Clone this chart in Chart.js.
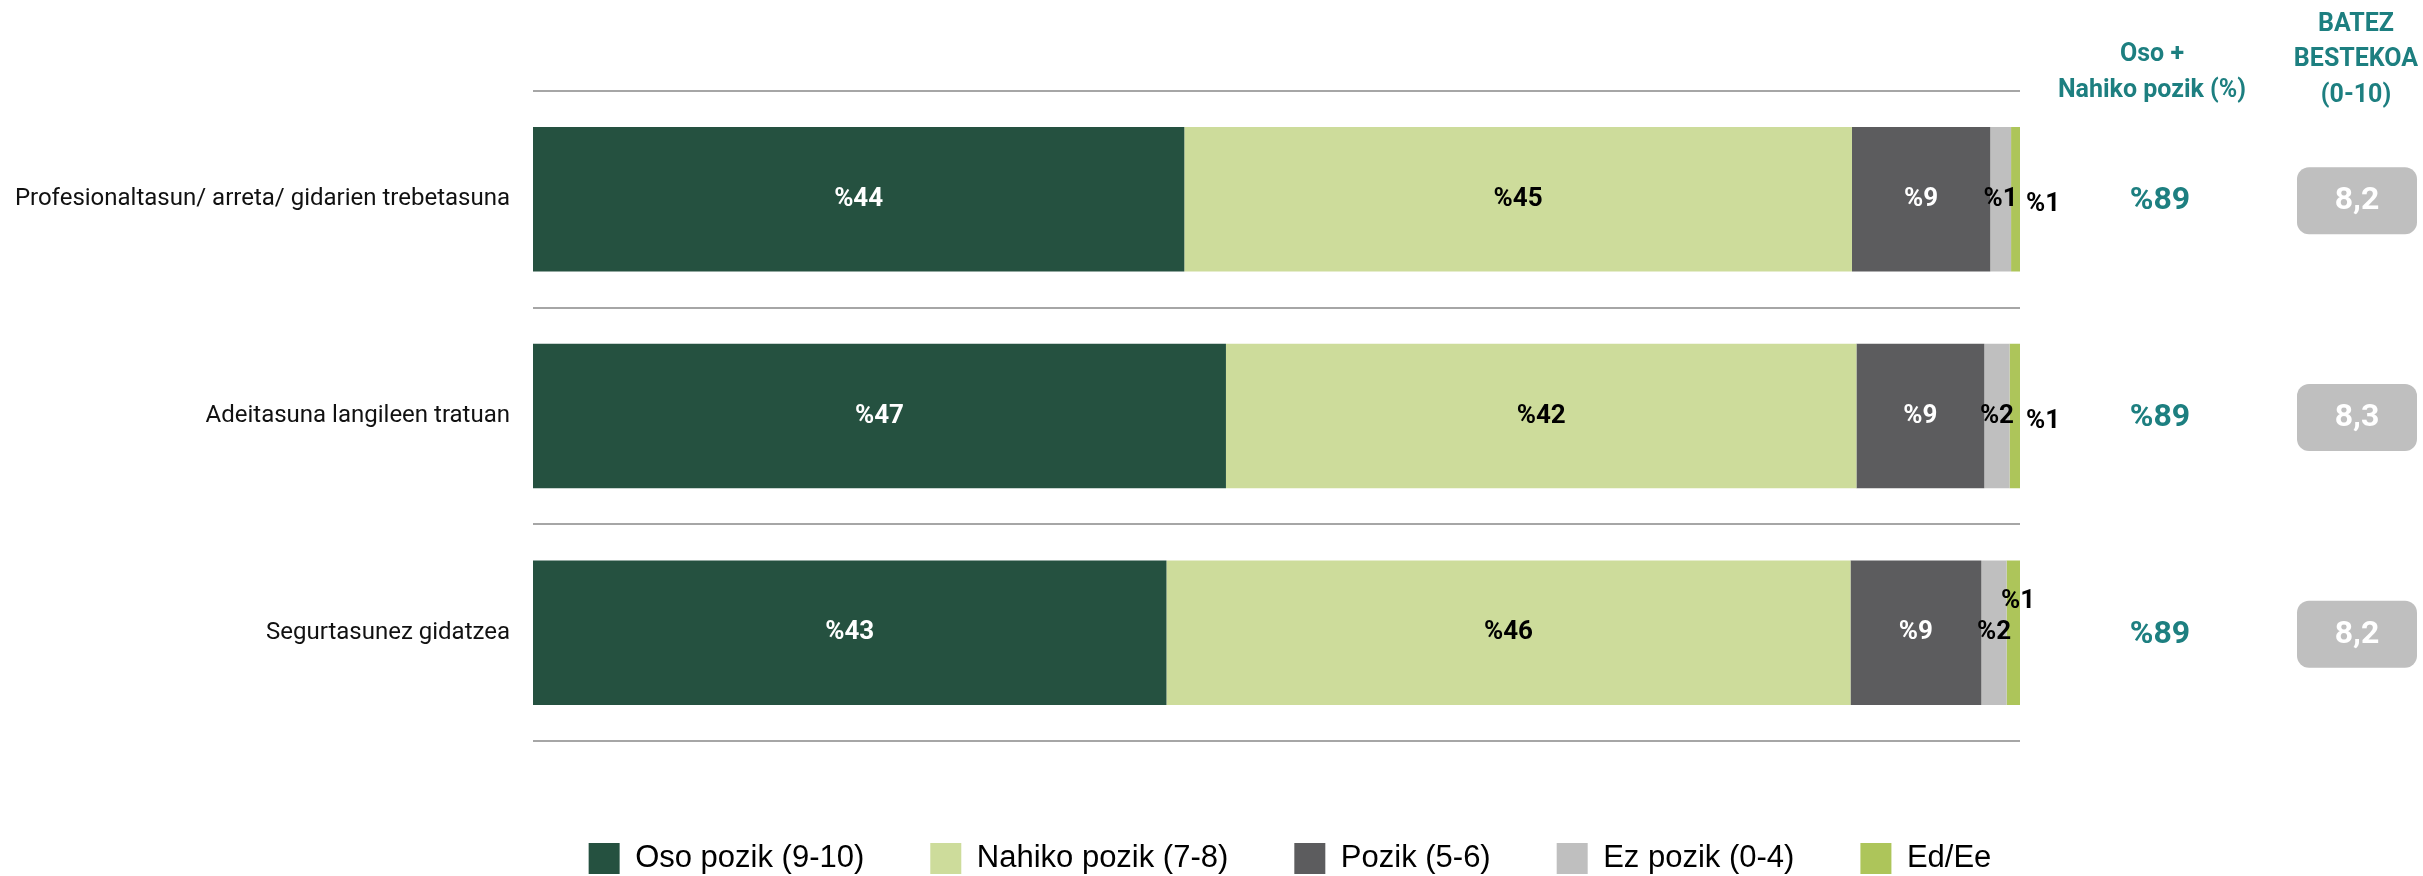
<!DOCTYPE html>
<html>
<head>
<meta charset="utf-8">
<script src="https://cdn.jsdelivr.net/npm/chart.js@4"></script>
<style>
  html, body { margin: 0; padding: 0; background: #fff; }
  #wrap { width: 2423px; height: 876px; }
</style>
</head>
<body>
<div id="wrap"><canvas id="pozikChart"></canvas></div>
<script>
const galderak = ['Profesionaltasun/ arreta/ gidarien trebetasuna', 'Adeitasuna langileen tratuan', 'Segurtasunez gidatzea'];
const osoPozik = [43.8, 46.6, 42.6];
const nahikoPozik = [44.9, 42.4, 46.0];
const pozik = [9.3, 8.6, 8.8];
const ezPozik = [1.4, 1.7, 1.7];
const edEe = [0.6, 0.7, 0.9];
const batezBestekoa = [8.2, 8.3, 8.2];

const teal = '#1d7f80';
const chartElement = document.getElementById('pozikChart');

// etiketak barren gainean
const etiketak = {
    id: 'etiketak',
    afterDatasetsDraw(chart) {
        const ctx = chart.ctx;
        ctx.save();
        ctx.font = 'bold 26px Roboto';
        ctx.textAlign = 'center';
        ctx.textBaseline = 'middle';
        chart.data.datasets.forEach((ds, di) => {
            const meta = chart.getDatasetMeta(di);
            meta.data.forEach((bar, i) => {
                let x = (bar.x + bar.base) / 2;
                let y = bar.y;
                if (di === 4) {
                    if (i === 2) { y = bar.y - 31; x = bar.x - 2; }
                    else { x = bar.x + 23; y = bar.y + 5; }
                }
                ctx.fillStyle = (di === 0 || di === 2) ? '#ffffff' : '#000000';
                ctx.fillText('%' + Math.round(ds.data[i]), x, y);
            });
        });
        ctx.restore();
    }
};

// eskuineko zutabeak
const zutabeak = {
    id: 'zutabeak',
    afterDraw(chart) {
        const ctx = chart.ctx;
        const yScale = chart.scales.y;
        ctx.save();
        ctx.textAlign = 'center';
        ctx.textBaseline = 'middle';
        ctx.fillStyle = teal;
        ctx.font = 'bold 25px Roboto';
        ctx.fillText('Oso +', 2152, 55);
        ctx.fillText('Nahiko pozik (%)', 2152, 91);
        ctx.fillText('BATEZ', 2356, 25);
        ctx.fillText('BESTEKOA', 2356, 60);
        ctx.fillText('(0-10)', 2356, 96);
        galderak.forEach((g, i) => {
            const y = yScale.getPixelForValue(i);
            ctx.fillStyle = teal;
            ctx.font = 'bold 32px Roboto';
            ctx.fillText('%' + Math.round(osoPozik[i] + nahikoPozik[i]), 2160, y + 2);
            ctx.fillStyle = '#bfbfbf';
            ctx.beginPath();
            ctx.roundRect(2297, y - 32, 120, 67, 12);
            ctx.fill();
            ctx.fillStyle = '#ffffff';
            ctx.fillText(batezBestekoa[i].toFixed(1).replace('.', ','), 2357, y + 2);
        });
        ctx.restore();
    }
};

const pozikChart = new Chart(chartElement, {
    type: 'bar',
    data: {
        labels: galderak,
        datasets: [
            { label: 'Oso pozik (9-10)', data: osoPozik, backgroundColor: '#255140' },
            { label: 'Nahiko pozik (7-8)', data: nahikoPozik, backgroundColor: '#cddc9b' },
            { label: 'Pozik (5-6)', data: pozik, backgroundColor: '#5c5c5e' },
            { label: 'Ez pozik (0-4)', data: ezPozik, backgroundColor: '#bfbfbf' },
            { label: 'Ed/Ee', data: edEe, backgroundColor: '#adc55a' }
        ]
    },
    options: {
        indexAxis: 'y',
        responsive: true,
        maintainAspectRatio: false,
        animation: false,
        categoryPercentage: 1,
        barPercentage: 0.667,
        layout: {
            // eskuineko tarte negatiboa legenda zentratzeko
            padding: { top: 91, right: -157, left: 0, bottom: -8 }
        },
        scales: {
            x: {
                stacked: true,
                min: 0,
                max: 100,
                display: false
            },
            y: {
                stacked: true,
                afterFit: (scale) => { scale.width = 533; },
                border: { display: false },
                grid: { color: '#a6a6a6', lineWidth: 2, drawTicks: false },
                ticks: {
                    color: '#111111',
                    padding: 23,
                    font: { family: 'Roboto', size: 24 }
                }
            },
            // eskuineko zutabeentzako lekua
            y2: {
                position: 'right',
                afterFit: (scale) => { scale.width = 560; },
                border: { display: false },
                grid: { display: false },
                ticks: { display: false }
            }
        },
        plugins: {
            tooltip: { enabled: false },
            legend: {
                position: 'bottom',
                title: {
                    display: true,
                    text: ' ',
                    color: 'rgba(0,0,0,0)',
                    font: { size: 10, lineHeight: 1 },
                    padding: { top: 26, bottom: 0 }
                },
                labels: {
                    boxWidth: 31,
                    boxHeight: 31,
                    padding: 66,
                    color: '#000000',
                    font: { family: "'Liberation Sans'", size: 31 }
                }
            }
        }
    },
    plugins: [etiketak, zutabeak]
});
</script>
</body>
</html>
